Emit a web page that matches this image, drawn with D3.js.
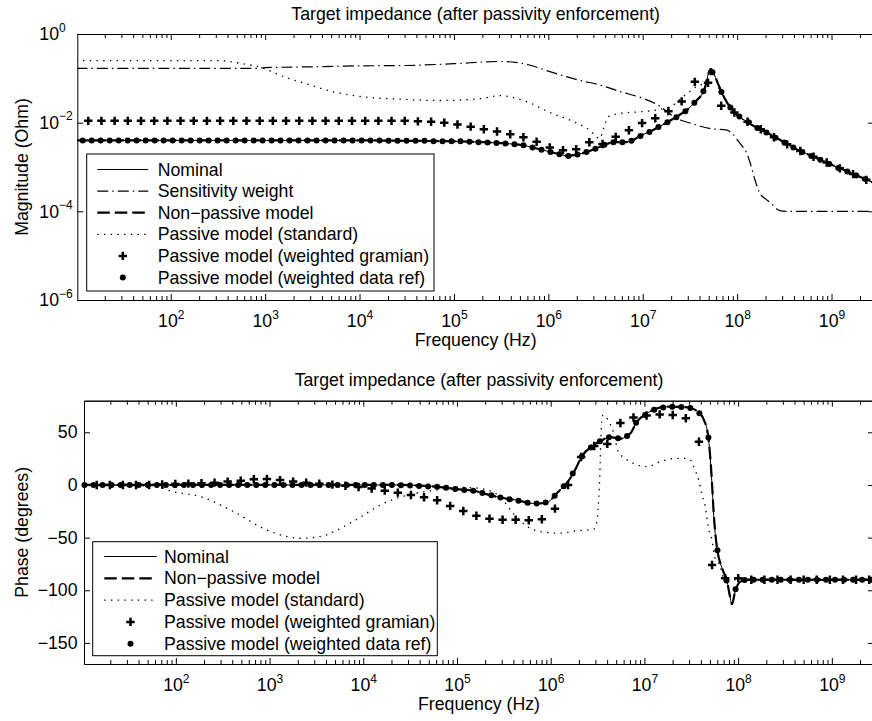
<!DOCTYPE html>
<html>
<head>
<meta charset="utf-8">
<script src="https://cdn.jsdelivr.net/npm/d3@7"></script>
<style>
  body { margin: 0; background: #fff; }
  svg text { font-family: "Liberation Sans", Arial, Helvetica, sans-serif; font-size: 17.7px; fill: #000; }
</style>
</head>
<body>
<div id="chart-area"></div>
<script>
// ---- ticks and labels ----
const freqTicks = [1e2, 1e3, 1e4, 1e5, 1e6, 1e7, 1e8, 1e9]
const magTicks = [1, 1e-2, 1e-4, 1e-6]
const phaseTicks = [50, 0, -50, -100, -150]
const title = "Target impedance (after passivity enforcement)"
const magLegend = ["Nominal", "Sensitivity weight", "Non\u2212passive model", "Passive model (standard)",
  "Passive model (weighted gramian)", "Passive model (weighted data ref)"]
const phaseLegend = ["Nominal", "Non\u2212passive model", "Passive model (standard)",
  "Passive model (weighted gramian)", "Passive model (weighted data ref)"]

// ---- magnitude (Ohm) ----
const magNominalHz = [10, 1e4, 3.2e4, 1e5, 2e5, 3.5e5, 5.4e5, 6.8e5, 8.1e5, 1.05e6, 1.3e6, 1.6e6, 2.0e6, 2.6e6,
  3.2e6, 4.0e6, 4.9e6, 6.3e6, 7.8e6, 9.3e6, 1.2e7, 1.5e7, 1.86e7, 2.3e7, 2.95e7, 3.6e7, 4.5e7, 5.25e7, 6.3e7,
  7.4e7, 8.9e7, 1.07e8, 1.3e8, 1.6e8, 2.0e8, 2.6e8, 4.0e8, 6.3e8, 1e9, 1.6e9, 2.8e9]
const magNominal = [3.98e-3, 3.98e-3, 3.89e-3, 3.80e-3, 3.63e-3, 3.39e-3, 3.09e-3, 2.75e-3, 2.51e-3, 2.19e-3,
  1.95e-3, 1.78e-3, 1.91e-3, 2.19e-3, 2.63e-3, 3.16e-3, 3.63e-3, 3.63e-3, 3.98e-3, 5.01e-3, 6.31e-3, 8.13e-3,
  1.05e-2, 1.38e-2, 1.95e-2, 2.95e-2, 5.62e-2, 0.166, 7.08e-2, 3.31e-2, 1.91e-2, 1.35e-2, 1.02e-2, 7.76e-3,
  6.17e-3, 4.57e-3, 2.69e-3, 1.74e-3, 1.12e-3, 7.41e-4, 4.37e-4]
const magNonPassive = [3.98e-3, 3.98e-3, 3.89e-3, 3.80e-3, 3.63e-3, 3.39e-3, 3.09e-3, 2.75e-3, 2.51e-3, 2.19e-3,
  1.95e-3, 1.78e-3, 1.91e-3, 2.19e-3, 2.63e-3, 3.16e-3, 3.63e-3, 3.63e-3, 3.98e-3, 5.01e-3, 6.31e-3, 8.13e-3,
  1.05e-2, 1.38e-2, 1.95e-2, 2.95e-2, 5.62e-2, 0.162, 7.4e-2, 3.5e-2, 1.91e-2, 1.35e-2, 1.02e-2, 7.76e-3,
  6.17e-3, 4.57e-3, 2.69e-3, 1.74e-3, 1.12e-3, 7.41e-4, 4.37e-4]
const magWeightHz = [10, 800, 1000, 3200, 1e4, 3.2e4, 1e5, 3e5, 4.5e5, 6.3e5, 1e6, 2.1e6, 3.5e6, 5.8e6, 1e7,
  1.55e7, 2e7, 2.5e7, 3.2e7, 5.1e7, 7.8e7, 8.9e7, 1e8, 1.12e8, 1.26e8, 1.38e8, 1.55e8, 1.74e8, 2e8, 2.24e8,
  2.8e8, 3.3e8, 2.8e9]
const magWeight = [0.168, 0.168, 0.174, 0.182, 0.191, 0.195, 0.214, 0.240, 0.229, 0.200, 0.145, 0.0912, 0.0708,
  0.0501, 0.0355, 0.0229, 0.0151, 0.0115, 0.00977, 0.00741, 0.00676, 0.00562, 0.00417, 0.00302, 0.00209,
  0.00120, 5.01e-4, 2.57e-4, 1.91e-4, 1.58e-4, 1.05e-4, 1e-4, 1e-4]
const magStandardHz = [10, 316, 540, 950, 1550, 3000, 5200, 1.02e4, 2.7e4, 7.1e4, 1.9e5, 3.1e5, 4.5e5, 6.5e5,
  9.8e5, 1.86e6, 2.75e6, 3.5e6, 3.9e6, 4.3e6, 5.8e6, 1e7, 1.45e7, 2.1e7, 2.7e7, 3.7e7, 4.4e7, 5.1e7, 5.5e7,
  6.5e7, 7.9e7, 1e8, 1.3e8, 2e8, 4e8, 1e9, 2.8e9]
const magStandard = [0.251, 0.251, 0.219, 0.17, 0.11, 0.0708, 0.050, 0.0389, 0.0339, 0.0316, 0.0347, 0.0407,
  0.0355, 0.0275, 0.0178, 0.0105, 0.00676, 0.00437, 0.0081, 0.0135, 0.0162, 0.0178, 0.0195, 0.0251, 0.0389,
  0.0646, 0.0776, 0.115, 0.135, 0.055, 0.0295, 0.0145, 0.0102, 0.00617, 0.00269, 0.00112, 4.37e-4]
// '+' markers (weighted gramian), one value per sweep point
const magGramian = [0.011, 0.011, 0.011, 0.011, 0.011, 0.011, 0.011, 0.011, 0.011, 0.011, 0.011, 0.011, 0.011,
  0.011, 0.011, 0.011, 0.011, 0.011, 0.011, 0.011, 0.011, 0.011, 0.011, 0.011, 0.011, 0.0107, 0.0105, 0.0100,
  0.00912, 0.00813, 0.00708, 0.00631, 0.00550, 0.00468, 0.00372, 0.00275, 0.00240, 0.00251, 0.00363, 0.00331,
  0.00479, 0.00676, 0.00977, 0.0126, 0.0182, 0.0302, 0.0832, 0.0794, 0.0240, 0.0170, 0.0105, 0.00708, 0.00468,
  0.00324, 0.00229, 0.00170, 0.00126, 9.33e-4, 6.92e-4, 5.13e-4]
// dot markers (weighted data ref)
const magDataRef = [3.98e-3, 3.98e-3, 3.98e-3, 3.98e-3, 3.98e-3, 3.98e-3, 3.98e-3, 3.98e-3, 3.98e-3, 3.98e-3,
  3.98e-3, 3.98e-3, 3.98e-3, 3.98e-3, 3.98e-3, 3.98e-3, 3.98e-3, 3.98e-3, 3.98e-3, 3.98e-3, 3.98e-3, 3.98e-3,
  3.98e-3, 3.98e-3, 3.98e-3, 3.98e-3, 3.98e-3, 3.98e-3, 3.98e-3, 3.98e-3, 3.98e-3, 3.98e-3, 3.98e-3, 3.98e-3,
  3.89e-3, 3.89e-3, 3.89e-3, 3.89e-3, 3.89e-3, 3.80e-3, 3.80e-3, 3.80e-3, 3.80e-3, 3.72e-3, 3.63e-3, 3.55e-3,
  3.47e-3, 3.39e-3, 3.24e-3, 3.09e-3, 2.75e-3, 2.45e-3, 2.19e-3, 1.95e-3, 1.78e-3, 1.91e-3, 2.19e-3, 2.57e-3,
  3.16e-3, 3.63e-3, 3.63e-3, 3.89e-3, 5.01e-3, 6.17e-3, 7.94e-3, 1.02e-2, 1.32e-2, 1.82e-2, 2.82e-2, 5.13e-2,
  0.138, 4.90e-2, 2.19e-2, 1.38e-2, 1.02e-2, 7.59e-3, 6.03e-3, 4.57e-3, 3.55e-3, 2.75e-3, 2.19e-3, 1.78e-3,
  1.45e-3, 1.17e-3, 9.55e-4, 7.94e-4, 6.46e-4, 5.37e-4]

// ---- phase (degrees) ----
const phNominalHz = [10, 2.3e4, 6.6e4, 1e5, 1.6e5, 2.1e5, 3.2e5, 4.7e5, 6e5, 7.8e5, 9.5e5, 1.12e6, 1.26e6, 1.48e6,
  1.82e6, 2.14e6, 2.9e6, 3.55e6, 4.3e6, 5.5e6, 7.1e6, 8.3e6, 1.07e7, 1.35e7, 1.78e7, 2.6e7, 3.1e7, 3.6e7, 4.3e7,
  4.8e7, 5.25e7, 5.5e7, 5.9e7, 6.8e7, 7.6e7, 8.2e7, 8.6e7, 9.3e7, 1.05e8, 1.26e8, 2.8e9]
const phNominal = [0, 0, -2, -4, -6, -9, -12.6, -15, -17.4, -17.5, -15.8, -9.5, -4.7, 1.6, 14.2, 26.9, 38, 42.7,
  45.5, 44, 49, 60, 68, 72.5, 74.3, 74, 73, 70.5, 62, 46, 2, -30, -58, -80, -91, -106, -114, -101, -92, -90, -90]
const phNonPassive = [0, 0, -2, -4, -6, -9, -12.6, -15, -17.4, -17.5, -15.8, -9.5, -4.7, 1.6, 14.2, 26.9, 38, 42.7,
  45.5, 44, 49, 60, 68, 72.5, 74.3, 74, 73, 70.5, 62, 46, 4, -28, -57, -80, -91, -106, -113, -101, -92, -90, -90]
const phStandardHz = [10, 58, 93, 182, 407, 933, 2140, 3470, 7240, 1.66e4, 3.16e4, 6.17e4, 1e5, 1.41e5, 2.09e5,
  2.88e5, 3.98e5, 5.62e5, 7.76e5, 1.26e6, 1.91e6, 2.82e6, 3.09e6, 3.31e6, 3.5e6, 3.63e6, 4.27e6, 4.68e6, 5.25e6,
  7.08e6, 1.07e7, 1.48e7, 2.04e7, 2.69e7, 3.09e7, 3.47e7, 3.8e7, 4.07e7, 4.47e7, 4.79e7, 5.25e7, 5.62e7, 6.46e7,
  6.92e7, 7.94e7, 2.8e9]
const phStandard = [0, -1, -6.3, -11, -25, -42.7, -50.6, -49, -36.3, -17.4, -9, -4.7, -2.2, -2.5, -4.7, -11.1,
  -26.9, -39.5, -44.3, -45.8, -43.5, -42.5, -36, 0, 60, 66.4, 58.5, 50, 32, 22, 17.4, 22, 25, 25.3, 23.7, 14.2,
  4.7, -7.9, -20.6, -39.5, -52, -68, -77.5, -87, -90, -90]
const phGramian = [0, 0, 0, 0, 0, 0.5, 1, 1.3, 1.6, 2.2, 3.2, 4.1, 5.4, 5.7, 4.6, 3.2, 2.2, 1.2, 0.3, -0.8, -2,
  -3.3, -5.4, -7.3, -9.5, -11.7, -14.5, -19.9, -24.7, -29.2, -32, -33, -33, -33.5, -32.5, -22.5, 0, 26.5, 37, 39,
  58.8, 64, 66, 67, 66.4, 63.3, 41, -76, -88.5, -88.5, -90, -90, -90, -90, -90, -90, -90, -90, -90, -90]
const phDataRef = [0, 0, 0, 0, 0, 0, 0, 0, 0, 0, 0, 0, 0, 0, 0, 0, 0, 0, 0, 0, 0, 0, 0, 0, 0, 0, 0, 0, 0, 0, 0, 0,
  0, 0, 0, -0.2, -0.6, -1.0, -1.4, -1.8, -2.6, -3.8, -4.7, -5.6, -7.6, -9.8, -11.9, -13.5, -14.9, -16.9, -17.5,
  -16.6, -10.2, -1.2, 10.8, 26.9, 35.5, 41.5, 45.3, 44.3, 46.5, 59, 66.5, 71.5, 73.6, 74.3, 74.1, 73, 68, 45, -62,
  -90.6, -99, -90.3, -90, -90, -90, -90, -90, -90, -90, -90, -90, -90, -90, -90, -90, -90]

// frequency sweeps of the marker series (log spaced like the solver output)
const logspace = (a, b, n) => d3.range(n).map(i => Math.pow(10, a + (b - a) * i / (n - 1)))
const plusHzTop = logspace(1.126, 9.368, magGramian.length)
const dotHzTop = logspace(1.067, 9.358, magDataRef.length)
const plusHzBottom = logspace(1.156, 9.398, phGramian.length)
const dotHzBottom = logspace(1.025, 9.42, phDataRef.length)

// line looks
const styles = {
  nominal: { width: 1, dash: null },
  weight: { width: 1.2, dash: "11,4,1.5,4" },
  nonPassive: { width: 2.2, dash: "12.5,5" },
  standard: { width: 1.3, dash: "1.4,5.3" }
}

let svg = d3.select("#chart-area").append("svg")
  .attr("width", 872)
  .attr("height", 721)

const expLabel = v => {
  let n = Math.round(Math.log10(v))
  return n < 0 ? "\u2212" + (-n) : "" + n
}

// "10" with a raised exponent
function powerLabels(axisG, opts) {
  axisG.selectAll(".tick text").each(function(d) {
    let t = d3.select(this).text("")
    if (opts.x !== undefined) t.attr("x", opts.x).attr("text-anchor", opts.anchor)
    t.append("tspan").text("10")
    t.append("tspan").attr("dy", -8.5).attr("font-size", 12).text(expLabel(d))
  })
}

function drawPlus(g, px, py) {
  g.append("path")
    .attr("d", `M${px - 4.2},${py}H${px + 4.2}M${px},${py - 4.2}V${py + 4.2}`)
    .attr("stroke", "#000").attr("stroke-width", 2.5).attr("fill", "none")
}

function drawDot(g, px, py) {
  g.append("circle").attr("cx", px).attr("cy", py).attr("r", 3).attr("fill", "#000")
}

function panel(cfg) {
  let x = cfg.x, y = cfg.y
  let [left, right] = x.range()
  let [bottom, top] = y.range()
  let g = svg.append("g")

  g.append("clipPath").attr("id", cfg.id).append("rect")
    .attr("x", left).attr("y", top).attr("width", right - left).attr("height", bottom - top)

  let line = d3.line()
    .x(d => x(d[0]))
    .y(d => y(d[1]))
    .curve(d3.curveMonotoneX)

  cfg.lines.forEach(s => {
    g.append("path")
      .datum(d3.zip(s.hz, s.values))
      .attr("clip-path", `url(#${cfg.id})`)
      .attr("d", line)
      .attr("fill", "none")
      .attr("stroke", "#000")
      .attr("stroke-width", s.style.width)
      .attr("stroke-dasharray", s.style.dash)
  })

  d3.zip(cfg.plus.hz, cfg.plus.values).forEach(d => drawPlus(g, x(d[0]), y(d[1])))
  d3.zip(cfg.dots.hz, cfg.dots.values).forEach(d => drawDot(g, x(d[0]), y(d[1])))

  // box with inward ticks on all four sides
  let minor = []
  d3.range(1, 10).forEach(e => d3.range(2, 10).forEach(m => {
    let f = m * Math.pow(10, e)
    if (f > x.domain()[0] && f < x.domain()[1]) minor.push(f)
  }))

  let xb = g.append("g").attr("transform", `translate(0,${bottom})`)
    .call(d3.axisBottom(x).tickValues(freqTicks).tickSizeInner(-6).tickSizeOuter(0).tickPadding(14.5))
  powerLabels(xb, {})
  g.append("g").attr("transform", `translate(0,${bottom})`)
    .call(d3.axisBottom(x).tickValues(minor).tickSizeInner(-4).tickSizeOuter(0).tickFormat(""))
  g.append("g").attr("transform", `translate(0,${top})`)
    .call(d3.axisTop(x).tickValues(freqTicks).tickSizeInner(-6).tickSizeOuter(0).tickFormat(""))
  g.append("g").attr("transform", `translate(0,${top})`)
    .call(d3.axisTop(x).tickValues(minor).tickSizeInner(-4).tickSizeOuter(0).tickFormat(""))

  let yl = g.append("g").attr("transform", `translate(${left},0)`)
    .call(d3.axisLeft(y).tickValues(cfg.yTicks).tickSizeInner(-6).tickSizeOuter(0).tickPadding(6.5)
      .tickFormat(cfg.yFormat))
  if (cfg.logY) powerLabels(yl, { x: cfg.yLabelX, anchor: "start" })
  g.append("g").attr("transform", `translate(${right},0)`)
    .call(d3.axisRight(y).tickValues(cfg.yTicks).tickSizeInner(-6).tickSizeOuter(0).tickFormat(""))

  g.selectAll(".tick text").attr("font-size", null).attr("font-family", null)

  // titles
  let cx = (left + right) / 2
  g.append("text").attr("x", cx).attr("y", top - 14.5).attr("text-anchor", "middle").text(title)
  g.append("text").attr("x", cx).attr("y", bottom + 46).attr("text-anchor", "middle").text("Frequency (Hz)")
  g.append("text")
    .attr("transform", `translate(27.5,${(top + bottom) / 2}) rotate(-90)`)
    .attr("text-anchor", "middle")
    .text(cfg.yTitle)

  // legend
  let lg = cfg.legend
  g.append("rect")
    .attr("x", lg.x).attr("y", lg.y).attr("width", lg.w).attr("height", lg.h)
    .attr("fill", "#fff").attr("stroke", "#000").attr("stroke-width", 1)
  lg.items.forEach((item, i) => {
    let cy = lg.row0 + i * lg.step
    if (item.kind === "line") {
      g.append("line")
        .attr("x1", lg.s0).attr("x2", lg.s1).attr("y1", cy).attr("y2", cy)
        .attr("stroke", "#000")
        .attr("stroke-width", item.style.width)
        .attr("stroke-dasharray", item.style.dash)
    } else if (item.kind === "plus") {
      drawPlus(g, (lg.s0 + lg.s1) / 2, cy)
    } else {
      drawDot(g, (lg.s0 + lg.s1) / 2, cy)
    }
    g.append("text").attr("x", lg.tx).attr("y", cy + 6).text(item.label)
  })
}

// magnitude panel
panel({
  id: "clip-mag",
  x: d3.scaleLog().domain([Math.pow(10, 1.01), Math.pow(10, 9.45)]).range([77.3, 874]),
  y: d3.scaleLog().domain([1e-6, 1]).range([300, 34]),
  yTicks: magTicks,
  yFormat: d => d,
  logY: true,
  yLabelX: -38,
  yTitle: "Magnitude (Ohm)",
  lines: [
    { hz: magNominalHz, values: magNominal, style: styles.nominal },
    { hz: magWeightHz, values: magWeight, style: styles.weight },
    { hz: magNominalHz, values: magNonPassive, style: styles.nonPassive },
    { hz: magStandardHz, values: magStandard, style: styles.standard }
  ],
  plus: { hz: plusHzTop, values: magGramian },
  dots: { hz: dotHzTop, values: magDataRef },
  legend: {
    x: 86.7, y: 154, w: 347.3, h: 137, row0: 169.5, step: 21.6, s0: 97.3, s1: 148.3, tx: 157.7,
    items: [
      { kind: "line", style: styles.nominal, label: magLegend[0] },
      { kind: "line", style: styles.weight, label: magLegend[1] },
      { kind: "line", style: styles.nonPassive, label: magLegend[2] },
      { kind: "line", style: styles.standard, label: magLegend[3] },
      { kind: "plus", label: magLegend[4] },
      { kind: "dot", label: magLegend[5] }
    ]
  }
})

// phase panel
panel({
  id: "clip-phase",
  x: d3.scaleLog().domain([Math.pow(10, 1.02), Math.pow(10, 9.45)]).range([84, 874]),
  y: d3.scaleLinear().domain([-170, 80]).range([664, 400.7]),
  yTicks: phaseTicks,
  yFormat: d => d < 0 ? "\u2212" + (-d) : "" + d,
  logY: false,
  yTitle: "Phase (degrees)",
  lines: [
    { hz: phNominalHz, values: phNominal, style: styles.nominal },
    { hz: phNominalHz, values: phNonPassive, style: styles.nonPassive },
    { hz: phStandardHz, values: phStandard, style: styles.standard }
  ],
  plus: { hz: plusHzBottom, values: phGramian },
  dots: { hz: dotHzBottom, values: phDataRef },
  legend: {
    x: 92.7, y: 541.7, w: 344.6, h: 114, row0: 556.5, step: 21.8, s0: 104.3, s1: 156.7, tx: 164,
    items: [
      { kind: "line", style: styles.nominal, label: phaseLegend[0] },
      { kind: "line", style: styles.nonPassive, label: phaseLegend[1] },
      { kind: "line", style: styles.standard, label: phaseLegend[2] },
      { kind: "plus", label: phaseLegend[3] },
      { kind: "dot", label: phaseLegend[4] }
    ]
  }
})
</script>
</body>
</html>
